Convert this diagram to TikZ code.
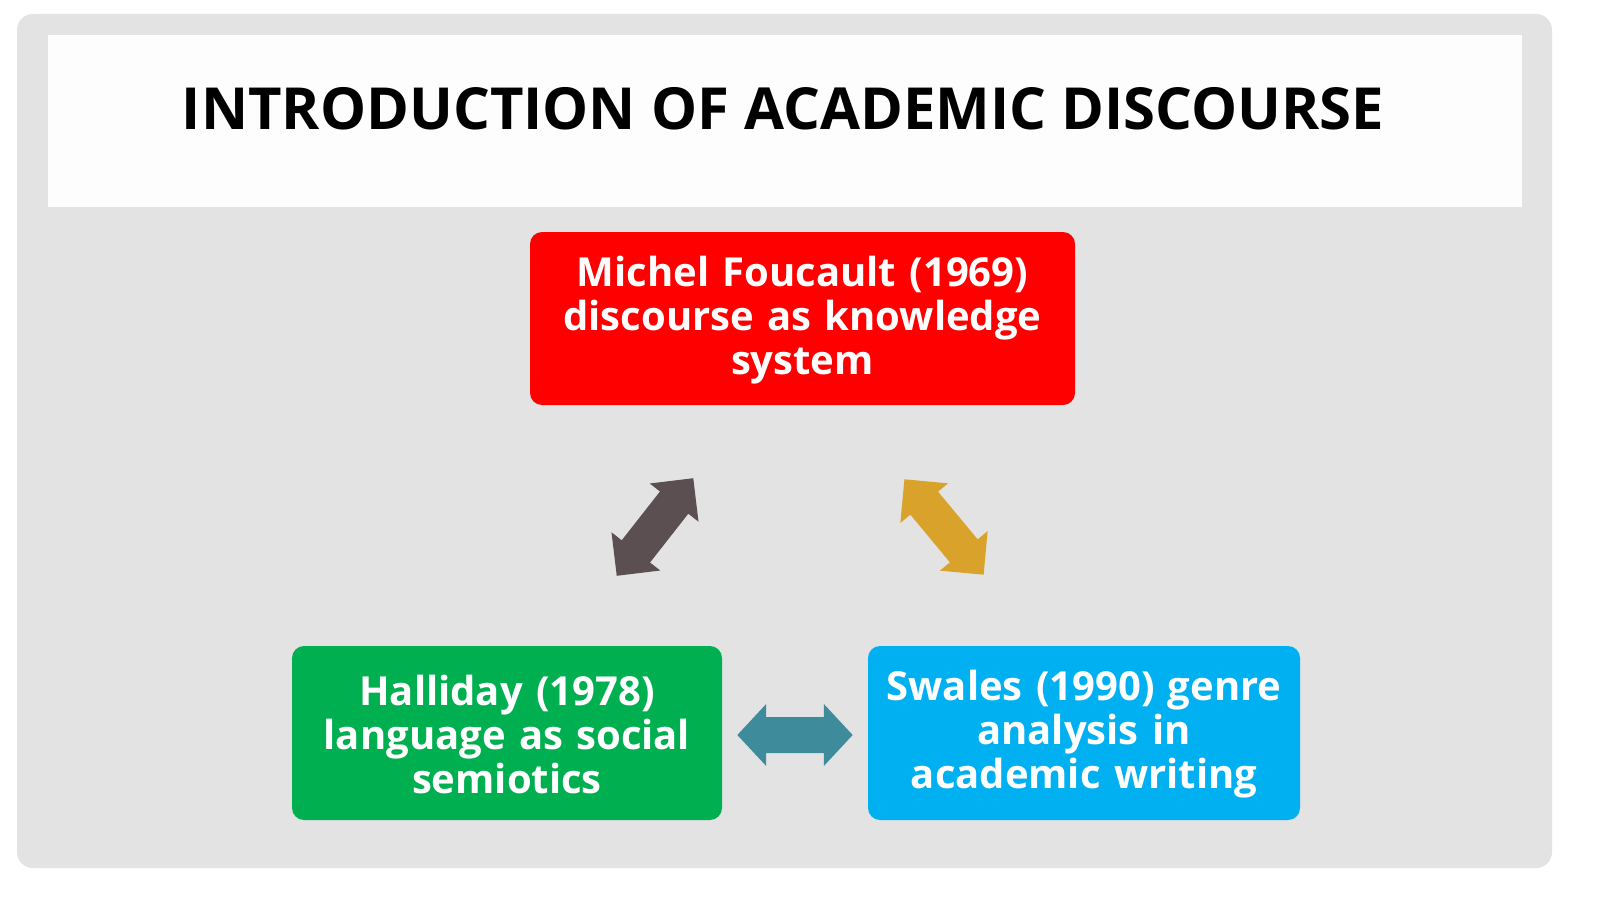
\documentclass[tikz,border=0pt]{standalone}
\usepackage{fontspec}
\setmainfont{Open Sans}
\definecolor{slidebg}{HTML}{E3E3E3}
\definecolor{titlebg}{HTML}{FDFDFD}
\definecolor{redbox}{HTML}{FF0000}
\definecolor{greenbox}{HTML}{00B050}
\definecolor{bluebox}{HTML}{00B0F0}
\definecolor{darkarrow}{HTML}{5B4F52}
\definecolor{goldarrow}{HTML}{D9A22B}
\definecolor{tealarrow}{HTML}{3E8B9C}
\tikzset{
  infobox/.style={rounded corners=6pt, inner sep=0pt, text=white, align=center,
    font=\fontsize{20}{22}\selectfont\bfseries},
  dblarrow/.pic={
    \fill[#1] (62,0) -- (31,31) -- (31,18) -- (-31,18) -- (-31,31) -- (-62,0)
      -- (-31,-31) -- (-31,-18) -- (31,-18) -- (31,-31) -- cycle;
  }
}
\begin{document}
\begin{tikzpicture}[x=0.5pt,y=-0.5pt]
\useasboundingbox (0,0) rectangle (1600,899);
\fill[white] (0,0) rectangle (1600,899);
% slide background
\fill[slidebg, rounded corners=8pt] (17,14) rectangle (1552,868);
% title band
\fill[titlebg] (48,35) rectangle (1522,207);
\node[font=\fontsize{29}{34}\selectfont\bfseries, text=black] (title) at (783,109) {INTRODUCTION OF ACADEMIC DISCOURSE};
% boxes
\path[infobox, fill=redbox] (530,232) rectangle (1075,405);
\node[infobox, text width=270pt] (foucault) at (802.5,320) {Michel Foucault (1969)\\discourse as knowledge\\system};
\path[infobox, fill=greenbox] (292,646) rectangle (722,820);
\node[infobox, text width=215pt] (halliday) at (507,734) {Halliday (1978)\\language as social\\semiotics};
\path[infobox, fill=bluebox] (868,646) rectangle (1300,820);
\node[infobox, text width=215pt] (swales) at (1084,734) {Swales (1990) genre\\analysis in\\academic writing};
% arrows
\pic[shift={(655,527)}, rotate=51.9] {dblarrow=darkarrow};
\pic[shift={(944,527)}, rotate=-50.3] {dblarrow=goldarrow};
\pic[shift={(795,735)}, xscale=0.93] {dblarrow=tealarrow};
\end{tikzpicture}
\end{document}
